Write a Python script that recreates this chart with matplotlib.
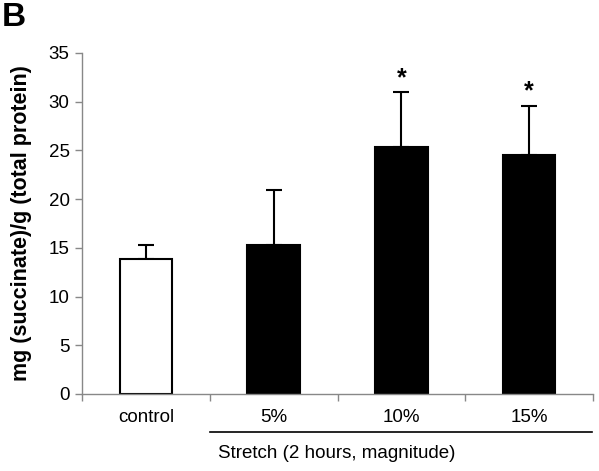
import matplotlib.pyplot as plt
from matplotlib.lines import Line2D

# values
groups = ['control', '5%', '10%', '15%']
means = [13.9, 15.3, 25.3, 24.5]
errors = [1.4, 5.6, 5.7, 5.1]
signif = [False, False, True, True]
colors = ['white', 'black', 'black', 'black']

plt.rcParams['font.family'] = ['Liberation Sans', 'DejaVu Sans']

fig = plt.figure(figsize=(5.99, 4.71), dpi=100)
ax = fig.add_axes([0.137, 0.1635, 0.853, 0.724])

x = list(range(len(groups)))
ax.bar(x, means, width=0.41, color=colors, edgecolor='black', linewidth=1.5, zorder=2)
ax.errorbar(x, means, yerr=[[0] * len(errors), errors], fmt='none', ecolor='black',
            elinewidth=1.5, capsize=6, capthick=1.5, zorder=1)

for xi, m, e, s in zip(x, means, errors, signif):
    if s:
        ax.text(xi, m + e + 0.2, '*', ha='center', va='bottom', fontsize=18, fontweight='bold')

ax.set_xlim(-0.5, 3.5)
ax.set_ylim(0, 35)
ax.set_yticks(range(0, 36, 5))
ax.set_xticks([-0.5, 0.5, 1.5, 2.5, 3.5])
ax.set_xticklabels([])
ax.tick_params(axis='both', direction='out', color='#888888', labelsize=13.5, length=5, width=1)
ax.tick_params(axis='y', pad=4)
for lab, xi in zip(groups, x):
    ax.text(xi, -1.5, lab, ha='center', va='top', fontsize=13.5,
            transform=ax.transData)

for side in ['top', 'right']:
    ax.spines[side].set_visible(False)
ax.spines['left'].set_color('#888888')
ax.spines['bottom'].set_color('#888888')
ax.spines['left'].set_linewidth(1)
ax.spines['bottom'].set_linewidth(1)

ax.set_ylabel('mg (succinate)/g (total protein)', fontsize=15.5, fontweight='bold')
ax.yaxis.set_label_coords(-0.098, 0.5)

# bracket under the stretch groups
fig.add_artist(Line2D([210 / 599, 592 / 599], [1 - 432 / 471, 1 - 432 / 471],
                      color='black', linewidth=1.2))
fig.text(337 / 599, 1 - 454 / 471, 'Stretch (2 hours, magnitude)', ha='center', va='center', fontsize=13.5)
fig.text(0.003, 0.995, 'B', ha='left', va='top', fontsize=24, fontweight='bold')

fig.savefig('out.png', dpi=100)
